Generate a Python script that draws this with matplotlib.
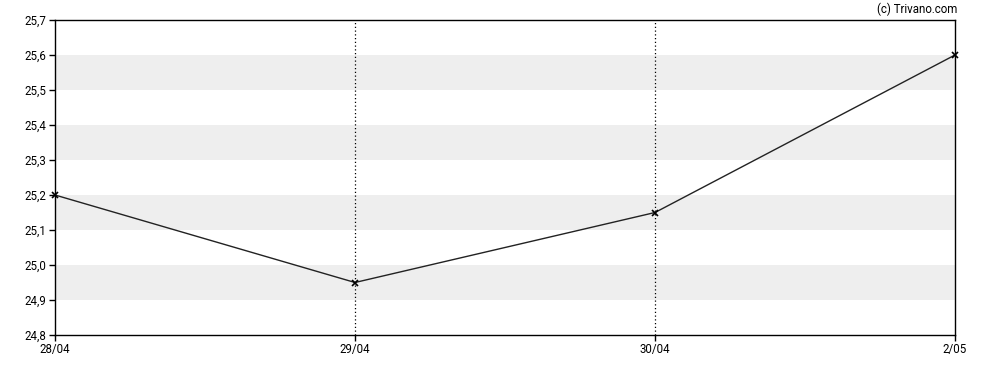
import matplotlib
matplotlib.use("Agg")
import matplotlib.pyplot as plt

dates = ["28/04", "29/04", "30/04", "2/05"]
prices = [25.2, 24.95, 25.15, 25.6]
y_ticks = [24.8, 24.9, 25.0, 25.1, 25.2, 25.3, 25.4, 25.5, 25.6, 25.7]
bands = [(24.9, 25.0), (25.1, 25.2), (25.3, 25.4), (25.5, 25.6)]

plt.rcParams['font.family'] = ['Roboto', 'DejaVu Sans']

fig = plt.figure(figsize=(9.88, 3.70), dpi=100)
ax = fig.add_axes([55 / 988, 35 / 370, 900 / 988, 315 / 370])

x = list(range(len(dates)))
for lo, hi in bands:
    ax.axhspan(lo, hi, color='#eeeeee', lw=0, zorder=0)
for xi in x[1:-1]:
    ax.axvline(xi, color='black', linestyle=(0, (1, 2)), lw=0.9, zorder=1)

ax.plot(x, prices, color='#222222', lw=1, marker='x', markersize=4,
        markeredgewidth=1.2, markeredgecolor='black', zorder=3, clip_on=False)

ax.set_xlim(0, len(dates) - 1)
ax.set_ylim(24.8, 25.7)
ax.set_xticks(x)
ax.set_xticklabels(dates)
ax.set_yticks(y_ticks)
ax.set_yticklabels([f"{v:.1f}".replace('.', ',') for v in y_ticks])
ax.tick_params(axis='both', labelsize=8.3, length=4, width=1, colors='black', pad=2)

for s in ax.spines.values():
    s.set_color('black')
    s.set_linewidth(1)

fig.text(957 / 988, 1 - 9 / 370, "(c) Trivano.com", ha='right', va='center', fontsize=8.3)

fig.savefig("out.png", dpi=100)
